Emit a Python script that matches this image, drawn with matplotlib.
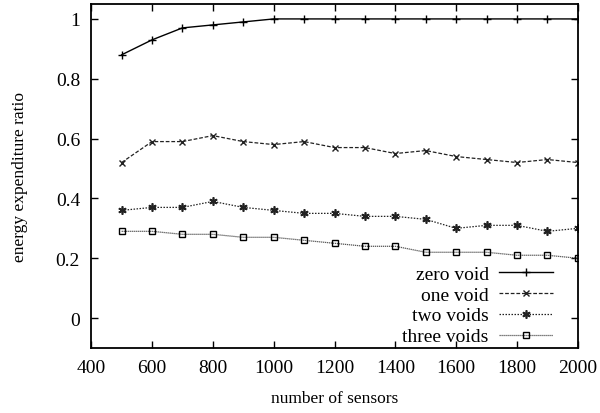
import matplotlib
matplotlib.use("Agg")
import matplotlib.pyplot as plt
from matplotlib.ticker import FuncFormatter

plt.rcParams['font.family'] = ['Liberation Serif', 'DejaVu Serif']
plt.rcParams['font.size'] = 12.5

sensors = [500, 600, 700, 800, 900, 1000, 1100, 1200, 1300, 1400,
           1500, 1600, 1700, 1800, 1900, 2000]
zero_void = [0.88, 0.93, 0.97, 0.98, 0.99, 1.0, 1.0, 1.0, 1.0, 1.0,
             1.0, 1.0, 1.0, 1.0, 1.0, 1.0]
one_void = [0.52, 0.59, 0.59, 0.61, 0.59, 0.58, 0.59, 0.57, 0.57, 0.55,
            0.56, 0.54, 0.53, 0.52, 0.53, 0.52]
two_voids = [0.36, 0.37, 0.37, 0.39, 0.37, 0.36, 0.35, 0.35, 0.34, 0.34,
             0.33, 0.30, 0.31, 0.31, 0.29, 0.30]
three_voids = [0.29, 0.29, 0.28, 0.28, 0.27, 0.27, 0.26, 0.25, 0.24, 0.24,
               0.22, 0.22, 0.22, 0.21, 0.21, 0.20]

fig = plt.figure(figsize=(6, 4.14), dpi=100)
ax = fig.add_axes([0.152, 0.157, 0.811, 0.831])

ax.plot(sensors, zero_void, color='black', lw=1.0, ls='-', marker='+',
        ms=6, mew=1.0, label='zero void')
ax.plot(sensors, one_void, color='#222222', lw=0.9, ls=(0, (3, 1.5)), marker='x',
        ms=5, mew=1.0, label='one void')
ax.plot(sensors, two_voids, color='#222222', lw=0.9, ls=(0, (1.2, 1.2)),
        marker=(6, 2, 0), ms=6, mew=1.2, label='two voids')
ax.plot(sensors, three_voids, color='#555555', lw=0.9, ls=(0, (1, 0.6)), marker='s',
        ms=5, mew=1.0, mfc='none', mec='black', label='three voids')

ax.set_xlim(400, 2000)
ax.set_ylim(-0.1, 1.05)
ax.set_xticks(range(400, 2001, 200))
ax.set_yticks([0, 0.2, 0.4, 0.6, 0.8, 1.0])
ax.yaxis.set_major_formatter(FuncFormatter(lambda v, p: '%g' % round(v, 2)))
ax.tick_params(direction='in', top=True, right=True, length=5, width=1.0,
               labelsize=14, pad=8)
for s in ax.spines.values():
    s.set_linewidth(1.3)

ax.set_xlabel('number of sensors', fontsize=12.5, labelpad=10)
ax.set_ylabel('energy expenditure ratio', fontsize=12.5, labelpad=20)

leg = ax.legend(loc='lower right', bbox_to_anchor=(0.965, -0.015),
                markerfirst=False, frameon=False, fontsize=14,
                handlelength=2.8, labelspacing=0.17, borderaxespad=0,
                handletextpad=0.5)

fig.savefig('out.png', dpi=100)
